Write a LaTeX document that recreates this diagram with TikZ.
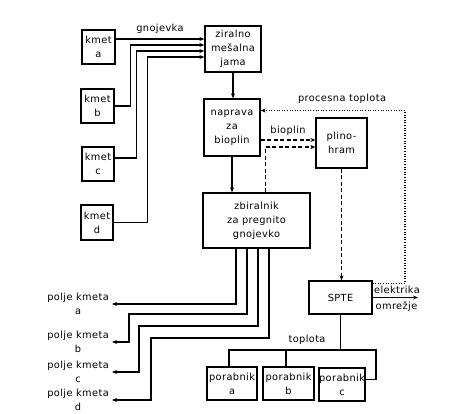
\documentclass[tikz,border=0pt]{standalone}
\usepackage{fontspec}
\setmainfont{DejaVu Sans}[LetterSpace=4]
\usetikzlibrary{positioning, arrows.meta, calc}

\begin{document}
\begin{tikzpicture}[
    x=1pt, y=-1pt,
    every node/.style={font=\fontsize{9.8}{14}\selectfont},
    box/.style={rectangle, draw, line width=1.3pt, align=center, inner sep=1pt, minimum width=#1},
    box/.default=33pt,
    lbl/.style={align=center, inner sep=2pt},
    line/.style={line width=1.2pt},
    arr/.style={-{Stealth[length=5pt, width=4pt]}, line width=1.2pt},
    gasarr/.style={arr, dash pattern=on 4pt off 2.5pt},
    heatarr/.style={arr, dash pattern=on 1pt off 1.6pt},
]
\useasboundingbox (0,0) rectangle (462,413);

% farms on the left
\node[box, minimum height=34pt] (kmeta) at (98.5,47) {kmet\\a};
\node[box, minimum height=34pt] (kmetb) at (97.5,106) {kmet\\b};
\node[box=32pt, minimum height=34pt] (kmetc) at (98,164) {kmet\\c};
\node[box=32pt, minimum height=35pt] (kmetd) at (97,222.5) {kmet\\d};

% main column
\node[box=56pt, minimum height=46pt] (jama) at (233,49) {ziralno\\mešalna\\jama};
\node[box=56pt, minimum height=57pt] (naprava) at (232,127.5) {naprava\\za\\bioplin};
\node[box=107pt, minimum height=55pt] (zbiralnik) at (256.5,220.5) {zbiralnik\\za pregnito\\gnojevko};

% gas storage and CHP
\node[box=51pt, minimum height=50pt] (plinohram) at (341.5,143) {plino-\\hram};
\node[box=63pt, minimum height=33pt] (spte) at (340.5,297.5) {SPTE};

% heat consumers
\node[box=50pt, minimum height=33pt] (pora) at (232,383.5) {porabnik\\a};
\node[box=51pt, minimum height=33pt] (porb) at (288.5,383.5) {porabnik\\b};
\node[box=46pt, minimum height=33pt, inner xsep=0pt] (porc) at (342,384.5) {porabnik\\c};

% fields of the farms
\node[lbl, inner sep=3pt, anchor=east] (poljea) at (112,304) {polje kmeta\\a};
\node[lbl, inner sep=3pt, anchor=east] (poljeb) at (112,342) {polje kmeta\\b};
\node[lbl, inner sep=3pt, anchor=east] (poljec) at (112,372) {polje kmeta\\c};
\node[lbl, inner sep=3pt, anchor=east] (poljed) at (112,400) {polje kmeta\\d};

% flow labels
\node[lbl] (gnojlbl) at (160,29) {gnojevka};
\node[lbl] (heatlbl) at (342,99) {procesna toplota};
\node[lbl] (gaslbl) at (288,131) {bioplin};
\node[lbl] (eleclbl) at (397,290) {elektrika};
\node[lbl] (gridlbl) at (396.5,307) {omrežje};
\node[lbl] (toplbl) at (307,340) {toplota};

% slurry from farms into the mixing pit
\coordinate (ina) at ($(jama.west)+(0,-10)$);
\coordinate (inb) at ($(jama.west)+(0,-4)$);
\coordinate (inc) at ($(jama.west)+(0,2)$);
\coordinate (ind) at ($(jama.west)+(0,8)$);
\draw[arr] (kmeta.east |- ina) -- (ina);
\draw[arr] (kmetb.east) -- ++(16,0) |- (inb);
\draw[arr] ($(kmetc.east)+(0,-6)$) -- ++(22,0) |- (inc);
\draw[arr] (kmetd.east) -- ++(34,0) |- (ind);

% column arrows
\draw[arr] (jama.south) -- (jama.south |- naprava.north);
\draw[arr] (naprava.south) -- (naprava.south |- zbiralnik.north);

% biogas (dashed)
\coordinate (gasin) at ($(plinohram.west)+(0,-3)$);
\coordinate (gasin2) at ($(plinohram.west)+(0,4)$);
\draw[gasarr] (naprava.east |- gasin) -- (gasin);
\draw[gasarr] ($(zbiralnik.north)+(9,0)$) |- (gasin2);
\draw[gasarr] (plinohram.south) -- (plinohram.south |- spte.north);

% process heat back to the digester (dotted)
\coordinate (rrail) at (405,0);
\coordinate (heatout) at ($(spte.east)+(0,-14)$);
\coordinate (heatin) at ($(naprava.east)+(0,-17)$);
\draw[heatarr] (heatout) -| (rrail |- heatin) -- (heatin);

% electricity to the grid
\coordinate (grid) at (418,0);
\draw[arr] (spte.east) -- (spte.east -| grid);

% heat to the consumers
\coordinate (tbus) at (0,350);
\coordinate (rbus) at (376,0);
\coordinate (porcin) at ($(porc.east)+(0,-5)$);
\draw[line] (spte.south) -- (spte.south |- tbus);
\draw[line] ($(pora.north)+(-3,0)$) |- (tbus -| rbus) |- (porcin);
\draw[line] ($(porb.north)+(-2.5,0)$) -- ($(porb.north |- tbus)+(-2.5,0)$);

% digestate back to the fields
\coordinate (outa) at ($(zbiralnik.south)+(-20.5,0)$);
\coordinate (outb) at ($(zbiralnik.south)+(-9.5,0)$);
\coordinate (outc) at ($(zbiralnik.south)+(1.5,0)$);
\coordinate (outd) at ($(zbiralnik.south)+(12.5,0)$);
\coordinate (jogb) at (129,314);
\coordinate (jogc) at (139,326);
\coordinate (jogd) at (151,338);
\draw[arr] (outa) |- (poljea.east);
\draw[arr] (outb) |- (jogb) |- (poljeb.east);
\draw[arr] (outc) |- (jogc) |- (poljec.east);
\draw[arr] (outd) |- (jogd) |- (poljed.east);

\end{tikzpicture}
\end{document}
